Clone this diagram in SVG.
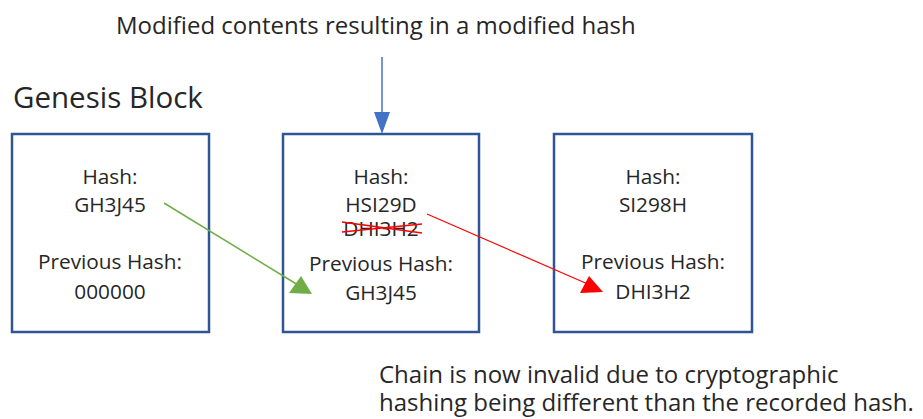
<svg xmlns="http://www.w3.org/2000/svg" width="923" height="419" viewBox="0 0 923 419">
<style>
text{font-family:"Open Sans","DejaVu Sans",sans-serif;fill:#262626}
.t{font-size:20.8px;text-anchor:middle}
.big{font-size:24px}
.box{fill:#fff;stroke:#2F5597;stroke-width:2.5}
</style>
<rect width="923" height="419" fill="#fff"/>
<text class="big" x="116" y="34">Modified contents resulting in a modified hash</text>
<text x="13" y="108" style="font-size:29.5px">Genesis Block</text>
<g id="block1">
<rect class="box" x="12" y="134" width="197" height="198"/>
<text class="t" x="110" y="184">Hash:</text>
<text class="t" x="110" y="212">GH3J45</text>
<text class="t" x="110" y="269">Previous Hash:</text>
<text class="t" x="110" y="299">000000</text>
</g>
<g id="block2">
<rect class="box" x="283" y="134" width="196" height="198"/>
<text class="t" x="381" y="184">Hash:</text>
<text class="t" x="381" y="212">HSI29D</text>
<text class="t" x="381" y="236">DHI3H2</text>
<path d="M342,222L422,233M342,232L422,224" stroke="#FF0000" stroke-width="1.5" fill="none"/>
<text class="t" x="381" y="271">Previous Hash:</text>
<text class="t" x="381" y="300">GH3J45</text>
</g>
<g id="block3">
<rect class="box" x="554" y="134" width="198" height="198"/>
<text class="t" x="653" y="184">Hash:</text>
<text class="t" x="653" y="212">SI298H</text>
<text class="t" x="653" y="269">Previous Hash:</text>
<text class="t" x="653" y="299">DHI3H2</text>
</g>
<g id="notes">
<text class="big" x="379" y="383">Chain is now invalid due to cryptographic</text>
<text class="big" x="379" y="411">hashing being different than the recorded hash.</text>
</g>
<g id="connectors">
<line x1="382" y1="57" x2="382" y2="113" stroke="#4472C4" stroke-width="1.5"/>
<path d="M374,112L390,112L382,134z" fill="#4472C4"/>
<line x1="164" y1="203" x2="298" y2="285" stroke="#70AD47" stroke-width="1.5"/>
<path d="M312,294L289,293L301,276z" fill="#70AD47"/>
<line x1="427" y1="214" x2="590" y2="285" stroke="#FF0000" stroke-width="1.2"/>
<path d="M603,292L580,293L589,276z" fill="#FF0000"/>
</g>
</svg>
